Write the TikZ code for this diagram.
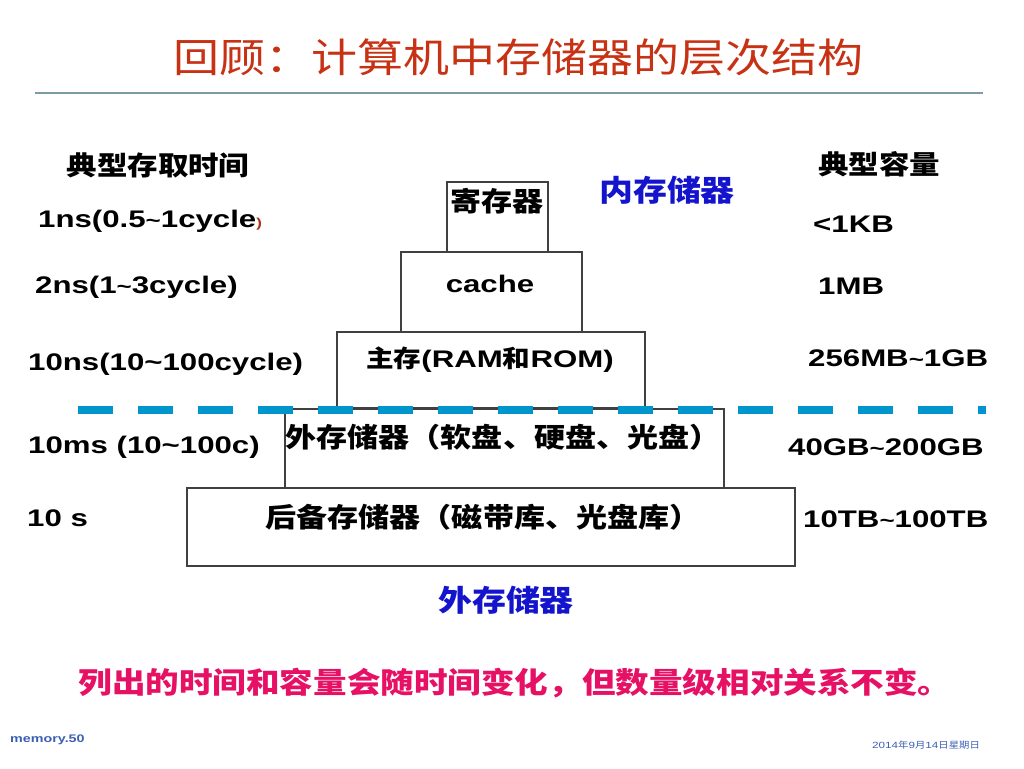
\documentclass[tikz,border=0pt]{standalone}
\usepackage{fontspec}
\setmainfont{Liberation Sans}[FakeStretch=1.3]
\newfontfamily\cjk{Noto Sans CJK SC}[FakeStretch=1.15]
\usetikzlibrary{positioning}

\definecolor{titlered}{RGB}{200,50,20}
\definecolor{memblue}{RGB}{20,20,205}
\definecolor{notered}{RGB}{230,16,100}
\definecolor{sepblue}{RGB}{0,150,205}
\definecolor{rulegray}{RGB}{125,155,165}
\definecolor{footblue}{RGB}{60,95,180}
\definecolor{darkred}{RGB}{170,50,20}

\newcommand{\cj}[1]{{\cjk #1}}
\newcommand{\fsz}[1]{\fontsize{#1}{#1}\selectfont}
\newcommand{\wave}{\textasciitilde}

\begin{document}
\begin{tikzpicture}[
  x=1pt, y=-1pt,
  lbl/.style={inner sep=0pt, anchor=base west, font=\bfseries\fsz{24}},
  hd/.style={inner sep=0pt, font=\cjk\bfseries\fsz{26.5}},
  blk/.style={draw=black!75, line width=1.1pt, rectangle, inner sep=0pt},
  boxtxt/.style={inner sep=0pt, font=\cjk\bfseries\fsz{27}},
  memlbl/.style={inner sep=0pt, text=memblue, font=\cjk\bfseries\fsz{29.5}}
]
  \useasboundingbox (0,0) rectangle (1024,768);

  % title and rule
  \node[inner sep=0pt, text=titlered, font=\cjk\fsz{40}] (title) at (518,57) {回顾：计算机中存储器的层次结构};
  \coordinate (rl) at (35,93);
  \coordinate (rr) at (983,93);
  \draw[rulegray, line width=1.6pt] (rl) -- (rr);

  % column heads
  \node[hd] (timehd) at (158,165) {典型存取时间};
  \node[hd] (caphd) at (879,164) {典型容量};
  \node[memlbl] (inner) at (667,190) {内存储器};

  % storage pyramid
  \node[blk, minimum width=101pt, minimum height=70pt] (reg) at (497.5,217) {};
  \node[blk, minimum width=181pt, minimum height=80pt] (cache) at (491.5,292) {};
  \node[blk, minimum width=308pt, minimum height=76pt] (main) at (491,370) {};
  \node[blk, minimum width=439pt, minimum height=79pt] (ext) at (504.5,448.5) {};
  \node[blk, minimum width=608pt, minimum height=78pt] (backup) at (491,527) {};

  \node[boxtxt] (regtxt) at (497,201) {寄存器};
  \node[inner sep=0pt, anchor=base, font=\bfseries\fsz{24}] (cachetxt) at (490,292) {cache};
  \node[inner sep=0pt, font=\bfseries\fsz{24}] (maintxt) at (490,360) {\cj{主存}(RAM\cj{和}ROM)};
  \node[boxtxt] (exttxt) at (503,437) {外存储器（软盘、硬盘、光盘）};
  \node[boxtxt] (backtxt) at (483,517) {后备存储器（磁带库、光盘库）};

  % inner / outer border
  \coordinate (sl) at (78,410);
  \coordinate (sr) at (986,410);
  \draw[sepblue, line width=7.5pt, dash pattern=on 35pt off 25pt] (sl) -- (sr);

  % access times
  \node[lbl] (t1) at (38,227) {1ns(0.5{\fsz{20}\wave}1cycle{\color{darkred}\fsz{13})}};
  \node[lbl] (t2) at (35,293) {2ns(1{\fsz{20}\wave}3cycle)};
  \node[lbl] (t3) at (28,370) {10ns(10\wave100cycle)};
  \node[lbl] (t4) at (28,453) {10ms (10\wave100c)};
  \node[lbl] (t5) at (27,526) {10 s};

  % capacities
  \node[lbl] (c1) at (813,232) {<1KB};
  \node[lbl] (c2) at (818,294) {1MB};
  \node[lbl] (c3) at (808,366) {256MB{\fsz{20}\wave}1GB};
  \node[lbl] (c4) at (788,455) {40GB{\fsz{20}\wave}200GB};
  \node[lbl] (c5) at (803,527) {10TB{\fsz{20}\wave}100TB};

  \node[memlbl] (outer) at (506,600) {外存储器};

  % note and footer
  \node[inner sep=0pt, text=notered, font=\cjk\bfseries\fsz{29.2}] (note) at (515,683) {列出的时间和容量会随时间变化，但数量级相对关系不变。};
  \node[inner sep=0pt, anchor=base west, text=footblue, font=\bfseries\fsz{11}] (page) at (10,742) {memory.50};
  \node[inner sep=0pt, anchor=base west, text=footblue, font=\fsz{9}] (date) at (872,748) {2014\cj{年}9\cj{月}14\cj{日星期日}};
\end{tikzpicture}
\end{document}
